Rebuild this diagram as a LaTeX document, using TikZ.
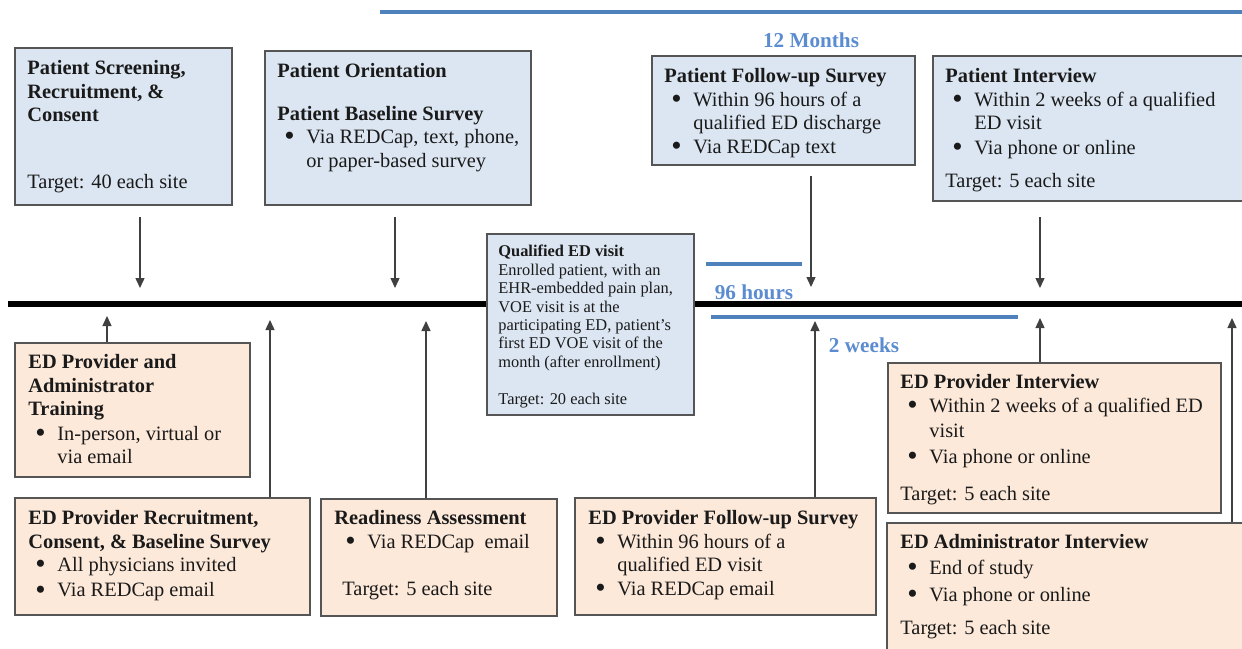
\documentclass[tikz,border=0pt]{standalone}
\usepackage{fontspec}
\usepackage{graphicx}
\setmainfont{Liberation Serif}
\usetikzlibrary{arrows.meta}
\definecolor{bluefill}{HTML}{DCE6F2}
\definecolor{peachfill}{HTML}{FDE9D9}
\definecolor{boxline}{HTML}{555555}
\definecolor{spanblue}{HTML}{4F81BD}
\definecolor{labelblue}{HTML}{5B8CD0}
\definecolor{ink}{HTML}{1A1A1A}
\newcommand{\bul}[1]{\hspace*{3.5pt}\makebox[11pt][l]{\raisebox{-1.2pt}[0pt][0pt]{\scalebox{1.45}{\textbullet}}}#1}
\newcommand{\cnt}[1]{\hspace*{14.5pt}#1}
\tikzset{
  basebox/.style={rectangle, draw=boxline, line width=1pt, inner sep=0pt, anchor=north west},
  bluebox/.style={basebox, fill=bluefill},
  peachbox/.style={basebox, fill=peachfill},
  txt/.style={anchor=north west, inner sep=0pt, align=left, text=ink, font=\fontsize{10.2}{11.75}\selectfont},
  smalltxt/.style={txt, font=\fontsize{8.2}{9.2}\selectfont},
  arr/.style={-{Triangle[length=5pt,width=4.5pt]}, line width=0.7pt, draw=black!75},
  timeline/.style={line width=2.6pt, draw=black},
  span/.style={line width=2pt, draw=spanblue},
  spanlabel/.style={inner sep=0pt, text=labelblue, font=\bfseries\fontsize{10.6}{12}\selectfont}
}
\begin{document}
\begin{tikzpicture}[x=0.5pt,y=-0.5pt]
\useasboundingbox (0,0) rectangle (1242,648);

% timeline and spans
\coordinate (tlA) at (8,304);
\coordinate (tlB) at (1250,304);
\draw[timeline] (tlA) -- (tlB);
\coordinate (mA) at (380,12);
\coordinate (mB) at (1250,12);
\draw[span] (mA) -- (mB);
\node[spanlabel] (months) at (811,40) {12 Months};
\coordinate (hA) at (706,264);
\coordinate (hB) at (802,264);
\draw[span] (hA) -- (hB);
\node[spanlabel] (hours) at (754,292) {96 hours};
\coordinate (wA) at (711,317);
\coordinate (wB) at (1018,317);
\draw[span] (wA) -- (wB);
\node[spanlabel] (weeks) at (864,345) {2 weeks};

% top (patient) boxes
\node[bluebox, minimum width=108.5pt, minimum height=78.5pt] (b1) at (14,47) {};
\node[txt] (tb1) at (27,60) {\textbf{Patient Screening,}\\\textbf{Recruitment, \&}\\\textbf{Consent}\\[21.5pt]Target: 40 each site};

\node[bluebox, minimum width=133pt, minimum height=77pt] (b2) at (264,50) {};
\node[txt] (tb2) at (277,63) {\textbf{Patient Orientation}\\[9.5pt]\textbf{Patient Baseline Survey}\\\bul{Via REDCap, text, phone,}\\\cnt{or paper-based survey}};

\node[bluebox, minimum width=131.5pt, minimum height=54.5pt] (b3) at (651,55) {};
\node[txt] (tb3) at (664,68) {\textbf{Patient Follow-up Survey}\\\bul{Within 96 hours of a}\\\cnt{qualified ED discharge}\\\bul{Via REDCap text}};

\node[bluebox, minimum width=155pt, minimum height=72.5pt] (b4) at (932,55) {};
\node[txt] (tb4) at (945,68) {\textbf{Patient Interview}\\\bul{Within 2 weeks of a qualified}\\\cnt{ED visit}\\[0.5pt]\bul{Via phone or online}\\[5pt]Target: 5 each site};

% qualified ED visit
\node[bluebox, minimum width=103.5pt, minimum height=90.5pt] (q) at (486,233) {};
\node[smalltxt] (tq) at (498,245) {\textbf{Qualified ED visit}\\Enrolled patient, with an\\EHR-embedded pain plan,\\VOE visit is at the\\participating ED, patient's\\first ED VOE visit of the\\month (after enrollment)\\[9.3pt]Target: 20 each site};

% bottom (provider) boxes
\node[peachbox, minimum width=117.5pt, minimum height=67pt] (e1) at (14,342) {};
\node[txt] (te1) at (28,354) {\textbf{ED Provider and}\\\textbf{Administrator}\\\textbf{Training}\\[0.5pt]\bul{In-person, virtual or}\\\cnt{via email}};

\node[peachbox, minimum width=147.5pt, minimum height=58.5pt] (e2) at (14,497) {};
\node[txt] (te2) at (28,510) {\textbf{ED Provider Recruitment,}\\\textbf{Consent, \& Baseline Survey}\\\bul{All physicians invited}\\[0.8pt]\bul{Via REDCap email}};

\node[peachbox, minimum width=118pt, minimum height=58.5pt] (e3) at (320,498) {};
\node[txt] (te3) at (334,510) {\textbf{Readiness Assessment}\\\hspace*{2pt}\bul{Via REDCap~ email}\\[11.75pt]\hspace*{4pt}Target: 5 each site};

\node[peachbox, minimum width=150.5pt, minimum height=58.5pt] (e4) at (574,497) {};
\node[txt] (te4) at (588,510) {\textbf{ED Provider Follow-up Survey}\\\bul{Within 96 hours of a}\\\cnt{qualified ED visit}\\\bul{Via REDCap email}};

\node[peachbox, minimum width=166.5pt, minimum height=75pt] (e5) at (887,362) {};
\node[txt] (te5) at (900,374) {\textbf{ED Provider Interview}\\\bul{Within 2 weeks of a qualified ED}\\[1pt]\cnt{visit}\\[1pt]\bul{Via phone or online}\\[7pt]Target: 5 each site};

\node[peachbox, minimum width=190pt, minimum height=75pt] (e6) at (886,522) {};
\node[txt] (te6) at (900,534) {\textbf{ED Administrator Interview}\\[1pt]\bul{End of study}\\[1.8pt]\bul{Via phone or online}\\[5pt]Target: 5 each site};

% down arrows onto the timeline
\coordinate (d1) at (140,288);
\coordinate (d2) at (395,288);
\coordinate (d3) at (811,287);
\coordinate (d4) at (1040,288);
\draw[arr] (b1.south -| d1) ++(0,11) -- (d1);
\draw[arr] (b2.south -| d2) ++(0,11) -- (d2);
\draw[arr] (b3.south -| d3) ++(0,10) -- (d3);
\draw[arr] (b4.south -| d4) ++(0,15) -- (d4);

% up arrows onto the timeline
\coordinate (u1) at (107,316);
\coordinate (u2) at (270,320);
\coordinate (u3) at (426,321);
\coordinate (u4) at (815,321);
\coordinate (u5) at (1040,318);
\coordinate (u6) at (1232,318);
\draw[arr] (e1.north -| u1) -- (u1);
\draw[arr] (e2.north -| u2) -- (u2);
\draw[arr] (e3.north -| u3) -- (u3);
\draw[arr] (e4.north -| u4) -- (u4);
\draw[arr] (e5.north -| u5) -- (u5);
\draw[arr] (e6.north -| u6) -- (u6);
\end{tikzpicture}
\end{document}
